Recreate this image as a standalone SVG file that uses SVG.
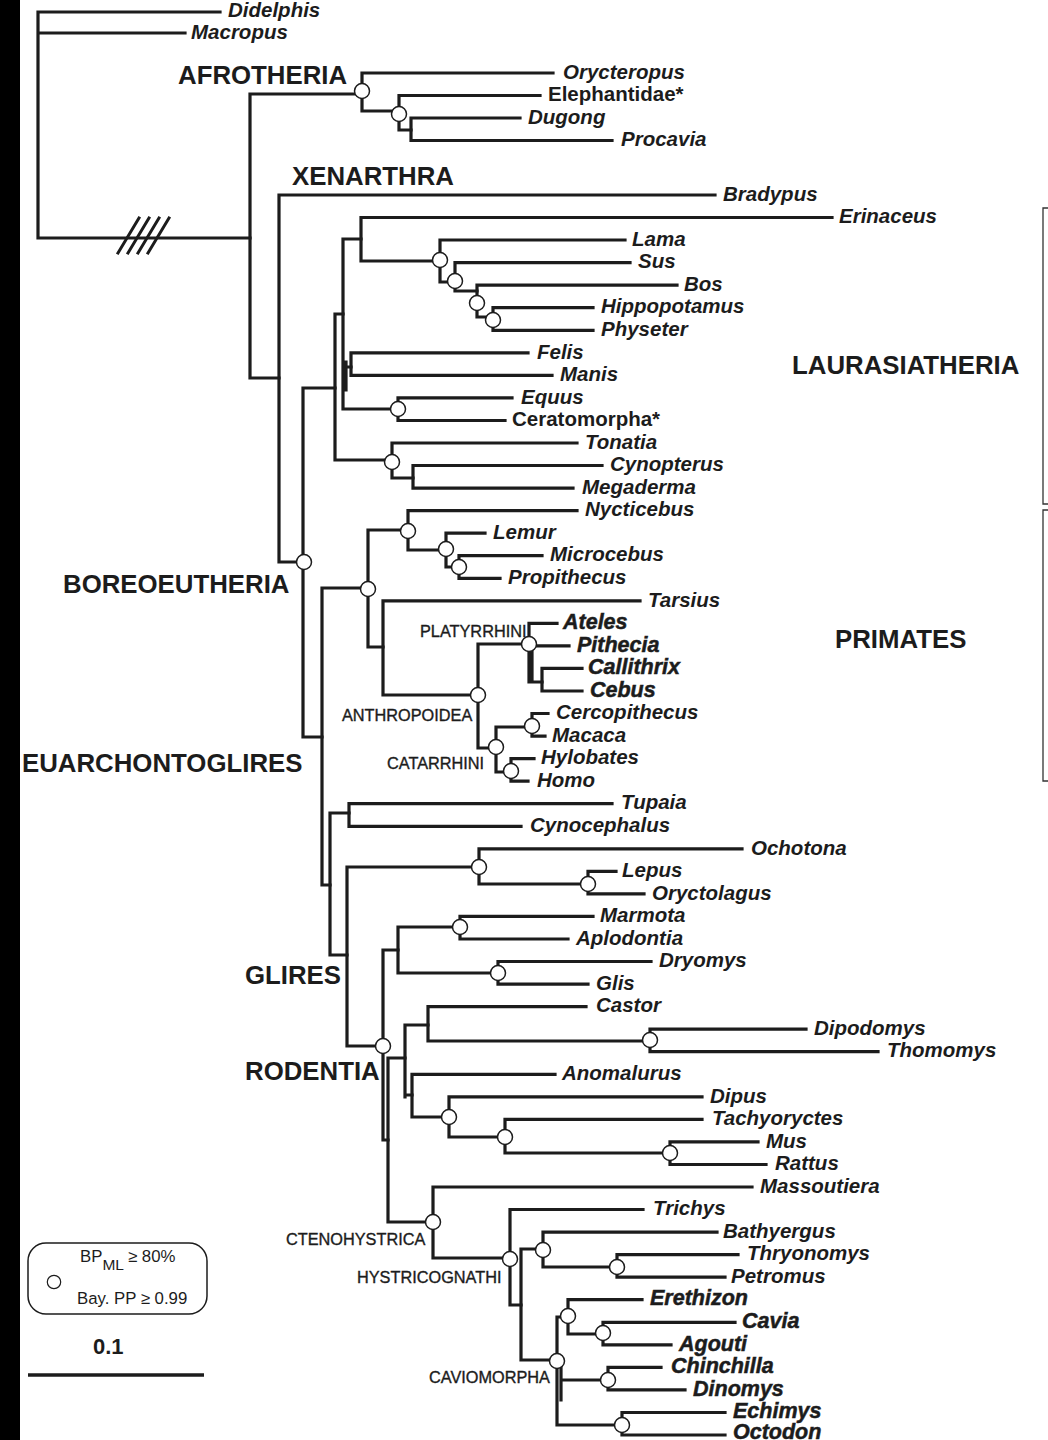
<svg xmlns="http://www.w3.org/2000/svg" width="1048" height="1440" viewBox="0 0 1048 1440">
<style>
.br{fill:none;stroke:#1c1c1c;stroke-width:3.2;stroke-linecap:square;stroke-linejoin:miter}
.hash{fill:none;stroke:#1c1c1c;stroke-width:3}
.nd{fill:#fff;stroke:#1c1c1c;stroke-width:1.5}
.tx{font-family:"Liberation Sans",Arial,sans-serif;font-weight:bold;font-style:italic;font-size:20.5px;fill:#1c1c1c}
.up{font-style:normal}
.hv{font-size:21.5px;stroke:#1c1c1c;stroke-width:0.5}
.cl{font-family:"Liberation Sans",Arial,sans-serif;font-weight:bold;font-size:25.8px;fill:#1c1c1c}
.sm{font-family:"Liberation Sans",Arial,sans-serif;font-size:16.3px;fill:#1c1c1c;stroke:#1c1c1c;stroke-width:0.35}
.lg{font-family:"Liberation Sans",Arial,sans-serif;font-size:16.8px;fill:#1c1c1c}
.bk{fill:none;stroke:#333;stroke-width:1.3}
</style>
<rect x="0" y="0" width="1048" height="1440" fill="#fff"/>
<rect x="0" y="0" width="20" height="1440" fill="#000"/>

<g id="connectors" class="br">
<path d="M38 12V238M38 12H220M38 33H185M38 238H250"/>
<path d="M250 94V378M250 94H362M250 378H279"/>
<path d="M362 73V111M362 73H553M362 111H399"/>
<path d="M399 95.5V130M399 95.5H540M399 130H411"/>
<path d="M411 118V140.5M411 118H520M411 140.5H612"/>
<path d="M279 195V562M279 195H715M279 562H303"/>
<path d="M303 388V737M303 388H335M303 737H322"/>
<path d="M335 314V460M335 314H343M335 460H392"/>
<path d="M343 239V409M343 239H361M343 367H351M343 409H398M346 362V390"/>
<path d="M361 217.5V261M361 217.5H832M361 261H440"/>
<path d="M440 240V282M440 240H625M440 282H455"/>
<path d="M455 262.6V291M455 262.6H630M455 291H477"/>
<path d="M477 285.2V317M477 285.2H677M477 317H493"/>
<path d="M493 307.7V330.3M493 307.7H593M493 330.3H593"/>
<path d="M351 352.8V375.4M351 352.8H528M351 375.4H552"/>
<path d="M398 397.9V420.5M398 397.9H512M398 420.5H505"/>
<path d="M392 443V478M392 443H577M392 478H413"/>
<path d="M413 465.5V488.1M413 465.5H602M413 488.1H573"/>
<path d="M322 588V885M322 588H368M322 885H330"/>
<path d="M368 530V647M368 530H408M368 647H383"/>
<path d="M408 510.6V550M408 510.6H577M408 550H446"/>
<path d="M446 533.2V567M446 533.2H485M446 567H459"/>
<path d="M459 555.7V578.3M459 555.7H542M459 578.3H500"/>
<path d="M383 600.8V695M383 600.8H640M383 695H478"/>
<path d="M478 644V748M478 644H529M478 748H496"/>
<path d="M529 623.4V682M529 623.4H557M529 645.9H569M529 682H542M532 650V682"/>
<path d="M542 668.4V691M542 668.4H582M542 691H582"/>
<path d="M496 727V772M496 727H532M496 772H511"/>
<path d="M532 713.5V736.1M532 713.5H548M532 736.1H545"/>
<path d="M511 758.6V781.2M511 758.6H534M511 781.2H528"/>
<path d="M330 813V955M330 813H349M330 955H347"/>
<path d="M349 803.7V826.3M349 803.7H612M349 826.3H521"/>
<path d="M347 867V1046M347 867H479M347 1046H383"/>
<path d="M479 848.8V884M479 848.8H742M479 884H588"/>
<path d="M588 871.4V893.9M588 871.4H616M588 893.9H644"/>
<path d="M383 950V1140M383 950H398M383 1140H388"/>
<path d="M398 927V973M398 927H460M398 973H498"/>
<path d="M460 916.4V939M460 916.4H593M460 939H568"/>
<path d="M498 961.5V984.1M498 961.5H651M498 984.1H588"/>
<path d="M388 1058V1222M388 1058H405M388 1222H433"/>
<path d="M405 1025V1097M405 1025H428M405 1095H412"/>
<path d="M428 1006.6V1041M428 1006.6H586M428 1041H650"/>
<path d="M650 1029.2V1051.7M650 1029.2H806M650 1051.7H878"/>
<path d="M412 1074.3V1117M412 1074.3H555M412 1117H449"/>
<path d="M449 1096.8V1137M449 1096.8H702M449 1137H505"/>
<path d="M505 1119.4V1153M505 1119.4H702M505 1153H670"/>
<path d="M670 1141.9V1164.5M670 1141.9H758M670 1164.5H766"/>
<path d="M433 1187V1258M433 1187H752M433 1258H510"/>
<path d="M510 1209.5V1305M510 1209.5H643M510 1305H521"/>
<path d="M521 1249V1360M521 1249H543M521 1360H557"/>
<path d="M543 1232.1V1267M543 1232.1H717M543 1267H617"/>
<path d="M617 1254.6V1277.2M617 1254.6H738M617 1277.2H725"/>
<path d="M557 1317V1425M557 1317H568M557 1425H622M561 1362V1400M561 1380H608"/>
<path d="M568 1299.7V1334M568 1299.7H642M568 1334H603"/>
<path d="M603 1322.3V1344.8M603 1322.3H735M603 1344.8H671"/>
<path d="M608 1367.4V1389.9M608 1367.4H661M608 1389.9H685"/>
<path d="M622 1412.5V1435M622 1412.5H725M622 1435H725"/>
<path class="hash" d="M118 253L139 218M128 253L149 218M138 253L159 218M148 253L169 218"/>
</g>

<g id="support-nodes">
<g id="s-afrotheria"><circle class="nd" cx="362" cy="91" r="7.5"/></g>
<g id="s-paenungulata"><circle class="nd" cx="399" cy="114" r="7.5"/></g>
<g id="s-boreoeutheria"><circle class="nd" cx="304" cy="562" r="7.5"/></g>
<g id="s-cetartiodactyla"><circle class="nd" cx="440" cy="260" r="7.5"/></g>
<g id="s-artiofabula"><circle class="nd" cx="455" cy="281" r="7.5"/></g>
<g id="s-cetruminantia"><circle class="nd" cx="477" cy="303" r="7.5"/></g>
<g id="s-whippomorpha"><circle class="nd" cx="493" cy="320" r="7.5"/></g>
<g id="s-perissodactyla"><circle class="nd" cx="398" cy="409" r="7.5"/></g>
<g id="s-chiroptera"><circle class="nd" cx="392" cy="462" r="7.5"/></g>
<g id="s-primates"><circle class="nd" cx="368" cy="589" r="7.5"/></g>
<g id="s-strepsirrhini"><circle class="nd" cx="408" cy="531" r="7.5"/></g>
<g id="s-lemuriformes"><circle class="nd" cx="446" cy="549" r="7.5"/></g>
<g id="s-microcebus-propithecus"><circle class="nd" cx="459" cy="567" r="7.5"/></g>
<g id="s-anthropoidea"><circle class="nd" cx="478" cy="695" r="7.5"/></g>
<g id="s-platyrrhini"><circle class="nd" cx="529" cy="644" r="7.5"/></g>
<g id="s-catarrhini"><circle class="nd" cx="496" cy="747" r="7.5"/></g>
<g id="s-cercopithecidae"><circle class="nd" cx="532" cy="726" r="7.5"/></g>
<g id="s-hominoidea"><circle class="nd" cx="511" cy="771" r="7.5"/></g>
<g id="s-lagomorpha"><circle class="nd" cx="479" cy="867" r="7.5"/></g>
<g id="s-leporidae"><circle class="nd" cx="588" cy="884" r="7.5"/></g>
<g id="s-rodentia"><circle class="nd" cx="383" cy="1046" r="7.5"/></g>
<g id="s-sciuroidea"><circle class="nd" cx="460" cy="927" r="7.5"/></g>
<g id="s-gliridae"><circle class="nd" cx="498" cy="973" r="7.5"/></g>
<g id="s-geomyoidea"><circle class="nd" cx="650" cy="1040" r="7.5"/></g>
<g id="s-myodonta"><circle class="nd" cx="449" cy="1117" r="7.5"/></g>
<g id="s-muroidea"><circle class="nd" cx="505" cy="1137" r="7.5"/></g>
<g id="s-murinae"><circle class="nd" cx="670" cy="1153" r="7.5"/></g>
<g id="s-ctenohystrica"><circle class="nd" cx="433" cy="1222" r="7.5"/></g>
<g id="s-hystricognathi"><circle class="nd" cx="510" cy="1259" r="7.5"/></g>
<g id="s-phiomorpha"><circle class="nd" cx="543" cy="1250" r="7.5"/></g>
<g id="s-thryonomyoidea"><circle class="nd" cx="617" cy="1267" r="7.5"/></g>
<g id="s-caviomorpha"><circle class="nd" cx="557" cy="1361" r="7.5"/></g>
<g id="s-erethizontoidea"><circle class="nd" cx="568" cy="1316" r="7.5"/></g>
<g id="s-cavioidea"><circle class="nd" cx="603" cy="1333" r="7.5"/></g>
<g id="s-chinchilloidea"><circle class="nd" cx="608" cy="1380" r="7.5"/></g>
<g id="s-octodontoidea"><circle class="nd" cx="622" cy="1425" r="7.5"/></g>
</g>

<g id="taxa" class="tx">
<g id="t-didelphis"><text x="228" y="16.5">Didelphis</text></g>
<g id="t-macropus"><text x="191" y="39">Macropus</text></g>
<g id="t-orycteropus"><text x="563" y="79">Orycteropus</text></g>
<g id="t-elephantidae"><text class="up" x="548" y="101">Elephantidae*</text></g>
<g id="t-dugong"><text x="528" y="123.5">Dugong</text></g>
<g id="t-procavia"><text x="621" y="146">Procavia</text></g>
<g id="t-bradypus"><text x="723" y="200.5">Bradypus</text></g>
<g id="t-erinaceus"><text x="839" y="223">Erinaceus</text></g>
<g id="t-lama"><text x="632" y="245.5">Lama</text></g>
<g id="t-sus"><text x="638" y="268">Sus</text></g>
<g id="t-bos"><text x="684" y="290.5">Bos</text></g>
<g id="t-hippopotamus"><text x="601" y="313">Hippopotamus</text></g>
<g id="t-physeter"><text x="601" y="336">Physeter</text></g>
<g id="t-felis"><text x="537" y="358.5">Felis</text></g>
<g id="t-manis"><text x="560" y="381">Manis</text></g>
<g id="t-equus"><text x="521" y="403.5">Equus</text></g>
<g id="t-ceratomorpha"><text class="up" x="512" y="426">Ceratomorpha*</text></g>
<g id="t-tonatia"><text x="585" y="448.5">Tonatia</text></g>
<g id="t-cynopterus"><text x="610" y="471">Cynopterus</text></g>
<g id="t-megaderma"><text x="582" y="493.5">Megaderma</text></g>
<g id="t-nycticebus"><text x="585" y="516">Nycticebus</text></g>
<g id="t-lemur"><text x="493" y="538.5">Lemur</text></g>
<g id="t-microcebus"><text x="550" y="561">Microcebus</text></g>
<g id="t-propithecus"><text x="508" y="584">Propithecus</text></g>
<g id="t-tarsius"><text x="648" y="606.5">Tarsius</text></g>
<g id="t-ateles"><text class="hv" x="563" y="629">Ateles</text></g>
<g id="t-pithecia"><text class="hv" x="577" y="651.5">Pithecia</text></g>
<g id="t-callithrix"><text class="hv" x="588" y="674">Callithrix</text></g>
<g id="t-cebus"><text class="hv" x="590" y="696.5">Cebus</text></g>
<g id="t-cercopithecus"><text x="556" y="719">Cercopithecus</text></g>
<g id="t-macaca"><text x="552" y="741.5">Macaca</text></g>
<g id="t-hylobates"><text x="541" y="764">Hylobates</text></g>
<g id="t-homo"><text x="537" y="786.5">Homo</text></g>
<g id="t-tupaia"><text x="621" y="809">Tupaia</text></g>
<g id="t-cynocephalus"><text x="530" y="832">Cynocephalus</text></g>
<g id="t-ochotona"><text x="751" y="854.5">Ochotona</text></g>
<g id="t-lepus"><text x="622" y="877">Lepus</text></g>
<g id="t-oryctolagus"><text x="652" y="899.5">Oryctolagus</text></g>
<g id="t-marmota"><text x="600" y="922">Marmota</text></g>
<g id="t-aplodontia"><text x="576" y="944.5">Aplodontia</text></g>
<g id="t-dryomys"><text x="659" y="967">Dryomys</text></g>
<g id="t-glis"><text x="596" y="989.5">Glis</text></g>
<g id="t-castor"><text x="596" y="1012">Castor</text></g>
<g id="t-dipodomys"><text x="814" y="1034.5">Dipodomys</text></g>
<g id="t-thomomys"><text x="887" y="1057">Thomomys</text></g>
<g id="t-anomalurus"><text x="562" y="1080">Anomalurus</text></g>
<g id="t-dipus"><text x="710" y="1102.5">Dipus</text></g>
<g id="t-tachyoryctes"><text x="712" y="1125">Tachyoryctes</text></g>
<g id="t-mus"><text x="766" y="1147.5">Mus</text></g>
<g id="t-rattus"><text x="775" y="1170">Rattus</text></g>
<g id="t-massoutiera"><text x="760" y="1192.5">Massoutiera</text></g>
<g id="t-trichys"><text x="653" y="1215">Trichys</text></g>
<g id="t-bathyergus"><text x="723" y="1237.5">Bathyergus</text></g>
<g id="t-thryonomys"><text x="747" y="1260">Thryonomys</text></g>
<g id="t-petromus"><text x="731" y="1282.5">Petromus</text></g>
<g id="t-erethizon"><text class="hv" x="650" y="1305">Erethizon</text></g>
<g id="t-cavia"><text class="hv" x="742" y="1328">Cavia</text></g>
<g id="t-agouti"><text class="hv" x="679" y="1350.5">Agouti</text></g>
<g id="t-chinchilla"><text class="hv" x="671" y="1373">Chinchilla</text></g>
<g id="t-dinomys"><text class="hv" x="693" y="1395.5">Dinomys</text></g>
<g id="t-echimys"><text class="hv" x="733" y="1417.5">Echimys</text></g>
<g id="t-octodon"><text class="hv" x="733" y="1438.5">Octodon</text></g>
</g>

<g id="clades">
<g id="l-afrotheria"><text class="cl" x="178" y="83.5">AFROTHERIA</text></g>
<g id="l-xenarthra"><text class="cl" x="292" y="185">XENARTHRA</text></g>
<g id="l-laurasiatheria"><text class="cl" x="792" y="374">LAURASIATHERIA</text></g>
<g id="l-boreoeutheria"><text class="cl" x="63" y="593">BOREOEUTHERIA</text></g>
<g id="l-primates"><text class="cl" x="835" y="648">PRIMATES</text></g>
<g id="l-euarchontoglires"><text class="cl" x="22" y="772">EUARCHONTOGLIRES</text></g>
<g id="l-glires"><text class="cl" x="245" y="984">GLIRES</text></g>
<g id="l-rodentia"><text class="cl" x="245" y="1080">RODENTIA</text></g>
<g id="l-platyrrhini"><text class="sm" x="420" y="637">PLATYRRHINI</text></g>
<g id="l-anthropoidea"><text class="sm" x="342" y="721">ANTHROPOIDEA</text></g>
<g id="l-catarrhini"><text class="sm" x="387" y="769">CATARRHINI</text></g>
<g id="l-ctenohystrica"><text class="sm" x="286" y="1245">CTENOHYSTRICA</text></g>
<g id="l-hystricognathi"><text class="sm" x="357" y="1283">HYSTRICOGNATHI</text></g>
<g id="l-caviomorpha"><text class="sm" x="429" y="1383">CAVIOMORPHA</text></g>
</g>

<g id="brackets">
<path class="bk" d="M1048 208H1043V504H1048"/>
<path class="bk" d="M1048 510H1043V781H1048"/>
</g>

<g id="legend">
<rect x="28" y="1243" width="179" height="71" rx="18" ry="18" fill="#fff" stroke="#1c1c1c" stroke-width="1.5"/>
<circle cx="54" cy="1282" r="6.7" fill="#fff" stroke="#1c1c1c" stroke-width="1.2"/>
<text class="lg" x="80" y="1262">BP<tspan font-size="15.5" dy="8">ML</tspan><tspan dx="4" dy="-8">≥ 80%</tspan></text>
<text class="lg" x="77" y="1304">Bay. PP ≥ 0.99</text>
</g>
<g id="scale">
<text x="93" y="1354" font-family="Liberation Sans, Arial, sans-serif" font-weight="bold" font-size="22" fill="#1c1c1c">0.1</text>
<path d="M28 1375H204" stroke="#1c1c1c" stroke-width="3.6" fill="none"/>
</g>
</svg>
